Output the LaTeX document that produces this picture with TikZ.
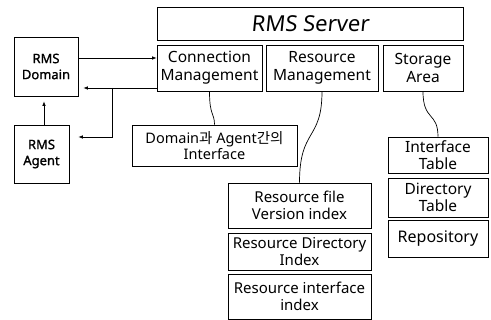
\documentclass[tikz,border=0pt]{standalone}
\usepackage{fontspec}
\setmainfont{Noto Sans}
\newfontfamily\kr{Noto Sans CJK KR}
\newfontfamily\slfont[FakeSlant=0.1]{Noto Sans}
\newfontfamily\bdfont[FakeBold=1.2]{Noto Sans}
\usetikzlibrary{arrows.meta}
\begin{document}
\begin{tikzpicture}[x=1pt,y=1pt,
  box/.style={draw, line width=0.7pt, inner sep=0pt, align=center, font=\fontsize{15}{16.5}\selectfont},
  conn/.style={line width=0.7pt},
  arr/.style={line width=0.7pt, -{Latex[length=4.5pt,width=3.5pt]}}]
\useasboundingbox (0,0) rectangle (491,-320);
% top row
\node[box, minimum width=306, minimum height=33, font=\fontsize{22}{24}\slfont] (server) at (310,-23.5) {RMS Server};
\node[box, minimum width=105, minimum height=46, font=\fontsize{15.5}{18}\selectfont] (cm) at (209.5,-68) {Connection\\Management};
\node[box, minimum width=112, minimum height=46, font=\fontsize{15.5}{18}\selectfont] (rm) at (322,-68) {Resource\\Management};
\node[box, minimum width=80, minimum height=46, font=\fontsize{15.5}{18}\selectfont] (sa) at (423,-68) {Storage\\Area};
% left
\node[box, minimum width=64, minimum height=59, font=\fontsize{13}{16}\bdfont] (dom) at (46,-66.5) {RMS\\Domain};
\node[box, minimum width=55, minimum height=58, font=\fontsize{13}{16}\bdfont] (agent) at (41.5,-154) {RMS\\Agent};
% interface
\node[box, minimum width=165, minimum height=41, font=\fontsize{14.5}{16.5}\selectfont] (iface) at (214.5,-145.5) {Domain{\kr 과} Agent{\kr 간의}\\Interface};
% resource column
\node[box, minimum width=143, minimum height=45] (rf) at (299.5,-205.5) {Resource file\\Version index};
\node[box, minimum width=143, minimum height=37] (rd) at (299.5,-251.5) {Resource Directory\\Index};
\node[box, minimum width=143, minimum height=45] (ri) at (299.5,-296.5) {Resource interface\\index};
% storage column
\node[box, minimum width=100, minimum height=36, font=\fontsize{15.5}{17}\selectfont] (it) at (438,-155) {Interface\\Table};
\node[box, minimum width=100, minimum height=39, font=\fontsize{15.5}{17}\selectfont] (dt) at (438,-197.5) {Directory\\Table};
\node[box, minimum width=100, minimum height=37, font=\fontsize{16}{17}\selectfont] (rp) at (438,-238.5) {Repository};
% arrows
\draw[arr] ([yshift=8.5]dom.east) -- ([yshift=8.5]dom.east -| cm.west);
\draw[arr, shorten >=5pt] ([yshift=-20]cm.west) -- ([yshift=-20]cm.west -| dom.east);
\coordinate (br) at (112,-88);
\draw[arr, shorten >=9pt] (br) |- ([yshift=17]agent.east);
\draw[arr, shorten >=5pt] ([xshift=2.5]agent.north) -- ([xshift=2.5]agent.north |- dom.south);
% curves
\draw[conn] (cm.south) .. controls +(0,-25) and +(0,12) .. (iface.north);
\draw[conn] (rm.south) .. controls +(0,-50) and +(0,55) .. (rf.north);
\draw[conn] (sa.south) .. controls +(0,-30) and +(0,25) .. (it.north);
\end{tikzpicture}
\end{document}
